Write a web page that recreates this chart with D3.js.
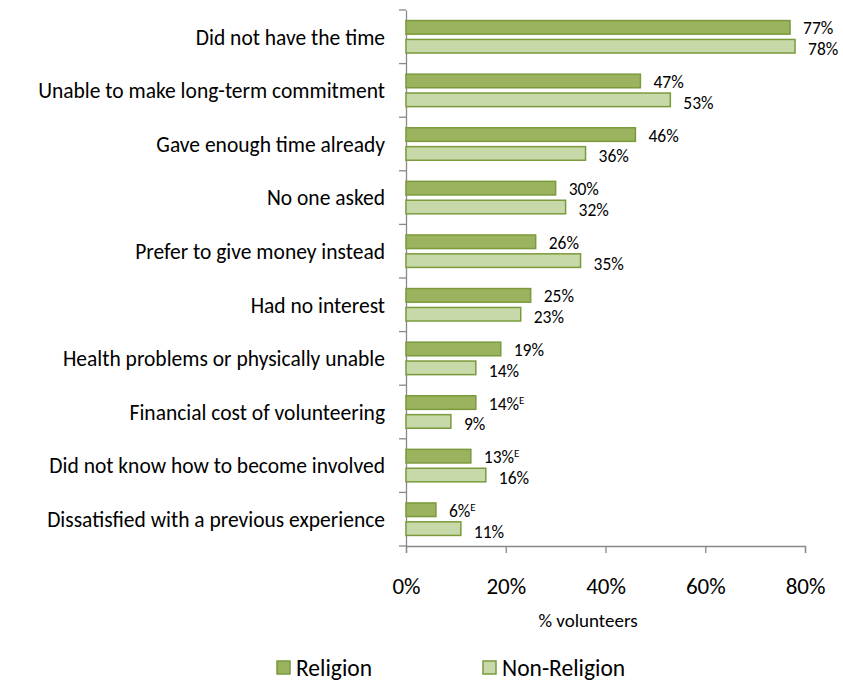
<!DOCTYPE html>
<html>
<head>
<meta charset="utf-8">
<script src="https://cdn.jsdelivr.net/npm/d3@7"></script>
<style>
  html, body { margin: 0; padding: 0; background: #fff; }
  svg { display: block; }
  svg text { font-family: Carlito, Calibri, Lato, "Open Sans", sans-serif; fill: #000; }
</style>
</head>
<body>
<svg id="chart" width="843" height="680"></svg>
<script>
// Reasons for not volunteering more, by volunteer type
const categories = [
  "Did not have the time",
  "Unable to make long-term commitment",
  "Gave enough time already",
  "No one asked",
  "Prefer to give money instead",
  "Had no interest",
  "Health problems or physically unable",
  "Financial cost of volunteering",
  "Did not know how to become involved",
  "Dissatisfied with a previous experience"
];
const religion    = [77, 47, 46, 30, 26, 25, 19, 14, 13, 6];
const nonReligion = [78, 53, 36, 32, 35, 23, 14, 9, 16, 11];
// "E" = use with caution (high sampling variability)
const religionFlag = ["", "", "", "", "", "", "", "E", "E", "E"];
const seriesNames = ["Religion", "Non-Religion"];
const xTicks = [0, 20, 40, 60, 80];
const xTitle = "% volunteers";

const colors = { fill: ["#9BB35F", "#C7D9A8"], stroke: ["#7A9A3C", "#7A9A3C"] };

const svg = d3.select("#chart");
const m = { left: 406, right: 805, top: 10, bottom: 546 };

const x = d3.scaleLinear().domain([0, 80]).range([m.left, m.right]);
const y = d3.scaleBand().domain(categories).range([m.top, m.bottom]);
const inner = d3.scaleBand().domain(seriesNames).range([0, y.bandwidth()]).paddingOuter(0.56).paddingInner(0.28);

const rows = categories.map((c, i) => ({ c, vals: [religion[i], nonReligion[i]], flag: religionFlag[i] }));

// X axis
const xAxis = d3.axisBottom(x).tickValues(xTicks).tickFormat(d => d + "%").tickSize(7).tickPadding(25);
const gx = svg.append("g").attr("transform", `translate(0,${m.bottom})`).call(xAxis);
gx.attr("font-family", null);
gx.select(".domain").attr("stroke", "#888").attr("stroke-width", 1.3);
gx.selectAll(".tick line").attr("stroke", "#888").attr("stroke-width", 1.3);
gx.selectAll(".tick text").style("font-size", "23px");

// Y axis
const yAxis = d3.axisLeft(y).tickSize(0).tickPadding(21);
const gy = svg.append("g").attr("transform", `translate(${m.left},0)`).call(yAxis);
gy.attr("font-family", null);
gy.select(".domain").attr("stroke", "#888").attr("stroke-width", 1.3);
gy.selectAll(".tick text").style("font-size", "21.5px").attr("dy", "0.36em");
// category boundary tick marks
const bounds = categories.map(c => y(c)).concat([m.bottom]);
svg.append("g").selectAll("line").data(bounds).join("line")
  .attr("x1", m.left - 7).attr("x2", m.left)
  .attr("y1", d => d).attr("y2", d => d)
  .attr("stroke", "#888").attr("stroke-width", 1.3);

// Bars
const groups = svg.append("g").selectAll("g").data(rows).join("g")
  .attr("transform", d => `translate(0,${y(d.c)})`);

const labelShift = [7, 9];
seriesNames.forEach((s, si) => {
  groups.append("rect")
    .attr("x", x(0))
    .attr("y", inner(s))
    .attr("width", d => x(d.vals[si]) - x(0))
    .attr("height", inner.bandwidth())
    .attr("fill", colors.fill[si])
    .attr("stroke", colors.stroke[si])
    .attr("stroke-width", 1.5);

  const t = groups.append("text")
    .attr("x", d => x(d.vals[si]) + 13)
    .attr("y", inner(s) + inner.bandwidth() / 2 + labelShift[si])
    .style("font-size", "17.5px");
  t.append("tspan").text(d => d.vals[si] + "%");
  if (si === 0) {
    t.filter(d => d.flag).append("tspan")
      .style("font-size", "11px")
      .attr("dy", -6)
      .text(d => d.flag);
  }
});

// X axis title
svg.append("text")
  .attr("x", 588).attr("y", 627)
  .attr("text-anchor", "middle")
  .style("font-size", "19px")
  .text(xTitle);

// Legend
const legendX = [277, 483];
const lg = svg.append("g").selectAll("g").data(seriesNames).join("g")
  .attr("transform", (d, i) => `translate(${legendX[i]},661)`);
lg.append("rect")
  .attr("width", 13).attr("height", 13)
  .attr("fill", (d, i) => colors.fill[i])
  .attr("stroke", (d, i) => colors.stroke[i])
  .attr("stroke-width", 1.5);
lg.append("text")
  .attr("x", 19).attr("y", 14.5)
  .style("font-size", "23.5px")
  .text(d => d);
</script>
</body>
</html>
